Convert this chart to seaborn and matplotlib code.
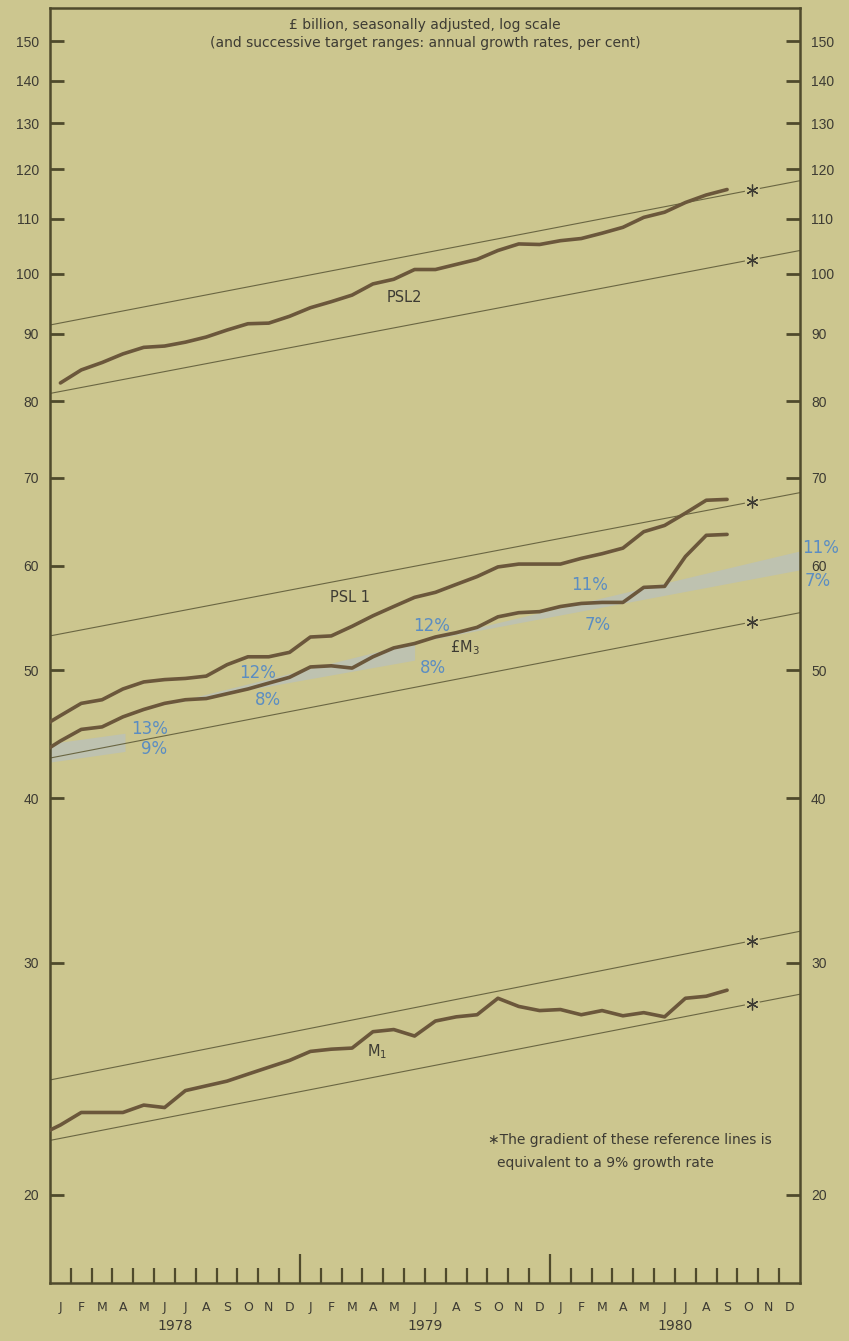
import numpy as np
import pandas as pd
import matplotlib
matplotlib.use("Agg")
import matplotlib.pyplot as plt
import matplotlib.transforms as mtransforms
from matplotlib import font_manager
from matplotlib.ticker import FixedLocator, NullLocator, FixedFormatter, NullFormatter
import seaborn as sns

# ---------------- data ----------------
month_letters = ["J", "F", "M", "A", "M", "J", "J", "A", "S", "O", "N", "D"] * 3
year_labels = ["1978", "1979", "1980"]
y_tick_values = [20, 30, 40, 50, 60, 70, 80, 90, 100, 110, 120, 130, 140, 150]

# monthly levels, £ billion; first month index (Jan 1978 = 0, Dec 1977 = -1)
psl2_first = 0
psl2 = [82.6, 84.5, 85.6, 86.9, 87.9, 88.1, 88.7, 89.5, 90.6, 91.6, 91.7, 92.8,
        94.2, 95.2, 96.3, 98.2, 99.0, 100.7, 100.7, 101.6, 102.5, 104.1, 105.3, 105.2,
        105.9, 106.3, 107.3, 108.4, 110.3, 111.3, 113.2, 114.7, 115.8]
psl1_first = -1
psl1 = [45.2,
        46.2, 47.2, 47.5, 48.4, 49.0, 49.2, 49.3, 49.5, 50.5, 51.2, 51.2, 51.6,
        53.0, 53.1, 54.0, 55.0, 55.9, 56.8, 57.3, 58.1, 58.9, 59.9, 60.2, 60.2,
        60.2, 60.8, 61.3, 61.9, 63.7, 64.4, 65.8, 67.3, 67.4]
m3_first = -1
m3 = [43.2,
      44.2, 45.1, 45.3, 46.1, 46.7, 47.2, 47.5, 47.6, 48.0, 48.4, 48.9, 49.4,
      50.3, 50.4, 50.2, 51.2, 52.0, 52.4, 53.0, 53.4, 53.9, 54.9, 55.3, 55.4,
      55.9, 56.2, 56.3, 56.3, 57.8, 57.9, 61.0, 63.3, 63.4]
m1_first = -1
m1 = [22.2,
      22.6, 23.1, 23.1, 23.1, 23.4, 23.3, 24.0, 24.2, 24.4, 24.7, 25.0, 25.3,
      25.7, 25.8, 25.85, 26.6, 26.7, 26.4, 27.1, 27.3, 27.4, 28.2, 27.8, 27.6,
      27.65, 27.4, 27.6, 27.35, 27.5, 27.3, 28.2, 28.3, 28.6]

# 9% reference lines: value at start (Jan 1978) and end (Dec 1980)
ref_names = ["PSL2 upper", "PSL2 lower", "PSL1", "£M3", "M1 upper", "M1 lower"]
ref_start = [91.4, 81.1, 53.1, 42.9, 24.45, 22.0]
ref_end = [117.6, 104.1, 68.2, 55.3, 31.7, 28.4]

# target ranges for £M3 (shaded): start/end month, low/high values at each end
band_x0 = [0.0, 5.5, 17.5]
band_x1 = [3.6, 17.5, 36.0]
band_lo0 = [42.6, 47.1, 52.5]
band_lo1 = [43.4, 50.9, 59.6]
band_hi0 = [44.0, 47.1, 52.5]
band_hi1 = [44.8, 52.5, 61.6]

# ---------------- style ----------------
BG = "#ccc68f"
LINE = "#6b573b"
REF = "#6a6642"
AXC = "#4f4a2c"
TXT = "#3d3b33"
BLUE = "#5b8dc2"
SHADE = "#bec2b0"

sns.set_theme(style="white")
names = {f.name for f in font_manager.fontManager.ttflist}
tick_font = "Liberation Sans" if "Liberation Sans" in names else "DejaVu Sans"
plt.rcParams["font.family"] = ["DejaVu Sans"]

fig = plt.figure(figsize=(8.49, 13.41), dpi=100, facecolor=BG)
ax = fig.add_axes([50 / 849, 1 - 1283 / 1341, 750 / 849, 1275 / 1341])
ax.set_facecolor(BG)
ax.set_yscale("log")

# bands
for x0, x1, l0, l1, h0, h1 in zip(band_x0, band_x1, band_lo0, band_lo1, band_hi0, band_hi1):
    ax.fill_between([x0, x1], [l0, l1], [h0, h1], color=SHADE, lw=0, zorder=1)

# reference lines with asterisk marks near their right end
for s, e in zip(ref_start, ref_end):
    sns.lineplot(x=[0, 36], y=[s, e], ax=ax, color=REF, lw=0.8, zorder=2)
    xs = 33.7
    ys = s * (e / s) ** (xs / 36)
    ax.plot([xs], [ys], marker="o", ms=11, color=BG, mec="none", zorder=3)
    ax.plot([xs], [ys], marker=(6, 2, 0), ms=8.5, mew=0.9, color=TXT, zorder=3.5)

# series
series = {"PSL2": (psl2_first, psl2), "PSL1": (psl1_first, psl1),
          "£M3": (m3_first, m3), "M1": (m1_first, m1)}
rows = []
for name, (first, vals) in series.items():
    for i, v in enumerate(vals):
        rows.append({"series": name, "month": first + i + 0.5, "value": v})
df = pd.DataFrame(rows)
sns.lineplot(data=df, x="month", y="value", hue="series", units="series",
             estimator=None, palette=[LINE] * 4, lw=2.6, ax=ax, legend=False,
             zorder=4, sort=False)

ax.set_xlim(0, 36)
ax.set_ylim(17.15, 159)
ax.set_xlabel("")
ax.set_ylabel("")

# y axis ticks both sides
ax.yaxis.set_major_locator(FixedLocator(y_tick_values))
ax.yaxis.set_major_formatter(FixedFormatter([str(v) for v in y_tick_values]))
ax.yaxis.set_minor_locator(NullLocator())
ax.tick_params(axis="y", which="major", left=True, right=True, labelleft=True,
               labelright=True, direction="in", length=10, width=2.0, color=AXC,
               labelsize=10, labelcolor=TXT, pad=8, labelfontfamily=tick_font)

# x axis: month letters at mid-month, boundary ticks inside
mids = np.arange(36) + 0.5
ax.xaxis.set_major_locator(FixedLocator(mids))
ax.xaxis.set_major_formatter(FixedFormatter(month_letters))
bounds = [b for b in range(1, 36) if b % 12 != 0]
ax.xaxis.set_minor_locator(FixedLocator(bounds))
ax.xaxis.set_minor_formatter(NullFormatter())
ax.tick_params(axis="x", which="major", length=0, labelsize=9, labelcolor=TXT, pad=13)
ax.tick_params(axis="x", which="minor", bottom=True, direction="in", length=11,
               width=1.6, color=AXC)
sec = ax.secondary_xaxis("bottom")
sec.set_xticks([12, 24])
sec.set_xticklabels(["", ""])
sec.tick_params(axis="x", direction="in", length=21, width=1.6, color=AXC)
sec.spines["bottom"].set_visible(False)

for sp in ax.spines.values():
    sp.set_visible(True)
    sp.set_color(AXC)
    sp.set_linewidth(1.8)

# year labels
blend = mtransforms.blended_transform_factory(ax.transData, ax.transAxes)
for k, yl in enumerate(year_labels):
    ax.text(12 * k + 6, -0.034, yl, transform=blend, ha="center", va="center",
            fontsize=10, color=TXT)

# titles
ax.text(0.5, 0.987, "£ billion, seasonally adjusted, log scale", transform=ax.transAxes,
        ha="center", va="center", fontsize=10, color=TXT)
ax.text(0.5, 0.9725, "(and successive target ranges: annual growth rates, per cent)",
        transform=ax.transAxes, ha="center", va="center", fontsize=10, color=TXT)

# series labels
for txt, x, y in [("PSL2", 17.0, 95.9), ("PSL 1", 14.4, 56.8),
                  ("£M$_3$", 19.9, 52.0), ("M$_1$", 15.7, 25.7)]:
    ax.text(x, y, txt, ha="center", va="center", fontsize=10.5, color=TXT, zorder=5)

# growth-rate labels
for txt, x, y in [("13%", 4.8, 45.1), ("9%", 5.0, 43.6),
                  ("12%", 9.95, 49.8), ("8%", 10.45, 47.5),
                  ("12%", 18.3, 54.0), ("8%", 18.4, 50.2),
                  ("11%", 25.9, 58.0), ("7%", 26.3, 54.1),
                  ("11%", 37.0, 61.9), ("7%", 36.85, 58.4)]:
    ax.text(x, y, txt, ha="center", va="center", fontsize=12, color=BLUE,
            zorder=5, clip_on=False)

# footnote
ax.text(0.584, 0.112, "\u2217The gradient of these reference lines is", transform=ax.transAxes,
        ha="left", va="center", fontsize=10, color=TXT)
ax.text(0.596, 0.094, "equivalent to a 9% growth rate", transform=ax.transAxes,
        ha="left", va="center", fontsize=10, color=TXT)

fig.savefig("out.png", dpi=100, facecolor=BG)
